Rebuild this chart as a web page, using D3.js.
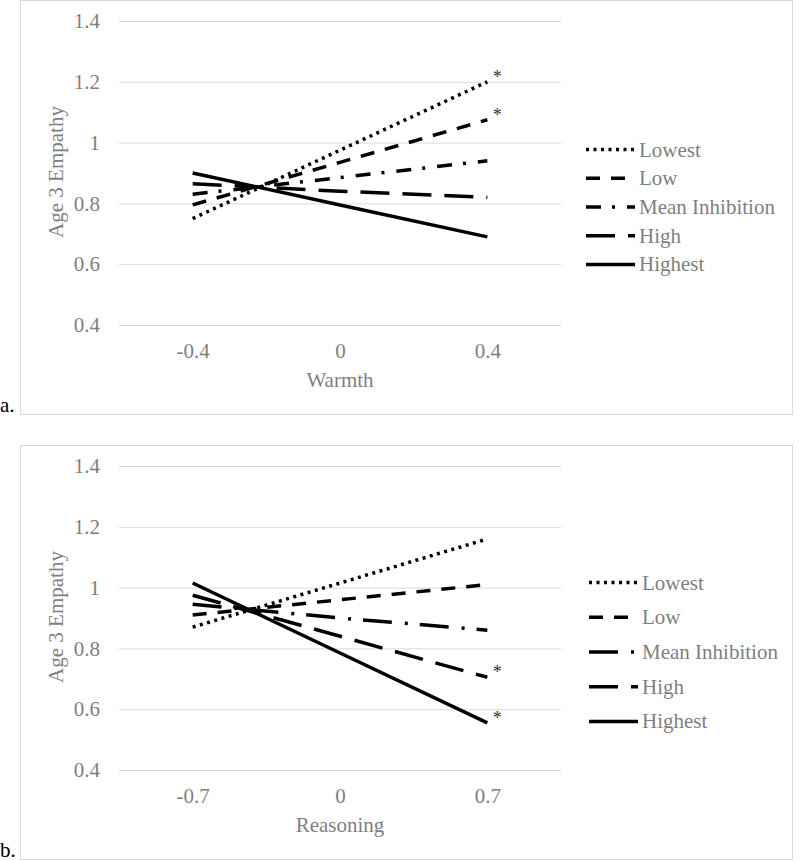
<!DOCTYPE html>
<html>
<head>
<meta charset="utf-8">
<script src="https://cdn.jsdelivr.net/npm/d3@7"></script>
<style>
  html, body { margin: 0; padding: 0; background: #fff; }
  svg { display: block; }
  svg text { font-family: "Liberation Serif", "Tinos", "Times New Roman", "Nimbus Roman", "DejaVu Serif", serif !important; }
</style>
</head>
<body>
<svg id="chart" width="800" height="861"></svg>
<script>
// ---------- data ----------
const seriesNames = ["Lowest", "Low", "Mean Inhibition", "High", "Highest"];
const yTicks = [0.4, 0.6, 0.8, 1.0, 1.2, 1.4];

const warmthCats = ["-0.4", "0", "0.4"];
const warmthLowest  = [0.75, 0.975, 1.20];
const warmthLow     = [0.795, 0.935, 1.075];
const warmthMean    = [0.83, 0.885, 0.94];
const warmthHigh    = [0.865, 0.84, 0.82];
const warmthHighest = [0.90, 0.795, 0.69];
const warmthSig     = [true, true, false, false, false];

const reasoningCats = ["-0.7", "0", "0.7"];
const reasoningLowest  = [0.87, 1.015, 1.16];
const reasoningLow     = [0.91, 0.96, 1.01];
const reasoningMean    = [0.945, 0.90, 0.86];
const reasoningHigh    = [0.975, 0.84, 0.705];
const reasoningHighest = [1.015, 0.785, 0.555];
const reasoningSig     = [false, false, false, true, true];

// ---------- styles ----------
const dashTop = ["3,4.5", "14,11", "15,11,3,12", "29,13", null];
const dashBottom = ["3,4.5", "14,11", "29,13,3,12", "29,13", null];

const panels = [
  { top: 0, cats: warmthCats, title: "Warmth", tag: "a.",
    values: [warmthLowest, warmthLow, warmthMean, warmthHigh, warmthHighest],
    sig: warmthSig, dash: dashTop, legendStep: 28.7, legendX: 586 },
  { top: 445, cats: reasoningCats, title: "Reasoning", tag: "b.",
    values: [reasoningLowest, reasoningLow, reasoningMean, reasoningHigh, reasoningHighest],
    sig: reasoningSig, dash: dashBottom, legendStep: 34.7, legendX: 589 }
];

const FONT = "'Liberation Serif', 'Tinos', 'Times New Roman', 'Nimbus Roman', 'DejaVu Serif', serif";
const svg = d3.select("#chart");
const grey = "#7f7f7f";
const plotL = 119, plotR = 561;

panels.forEach(p => {
  const g = svg.append("g").attr("transform", `translate(0,${p.top})`)
    .attr("font-family", FONT);

  g.append("rect")
    .attr("x", 20.5).attr("y", 0.5)
    .attr("width", 772).attr("height", 414)
    .attr("fill", "none").attr("stroke", "#d9d9d9").attr("stroke-width", 1);

  const x = d3.scalePoint().domain(p.cats).range([plotL, plotR]).padding(0.5);
  const y = d3.scaleLinear().domain([0.4, 1.4]).range([325, 21]);

  const yAxis = d3.axisLeft(y)
    .tickValues(yTicks)
    .tickSize(-(plotR - plotL))
    .tickPadding(19)
    .tickFormat(d => d3.format("")(+d.toFixed(1)));
  const ya = g.append("g").attr("transform", `translate(${plotL},0)`).call(yAxis)
    .attr("font-family", FONT).attr("font-size", 21);
  ya.select(".domain").remove();
  ya.selectAll(".tick line").attr("stroke", "#d9d9d9").attr("stroke-width", 1);
  ya.selectAll(".tick text").attr("fill", grey);

  const xa = g.append("g").attr("transform", "translate(0,325)")
    .call(d3.axisBottom(x).tickSize(0).tickPadding(18))
    .attr("font-family", FONT).attr("font-size", 21);
  xa.select(".domain").remove();
  xa.selectAll(".tick text").attr("fill", grey);

  g.append("text")
    .attr("x", 340).attr("y", 387)
    .attr("text-anchor", "middle")
    .attr("fill", grey).attr("font-size", 21)
    .text(p.title);
  g.append("text")
    .attr("transform", "translate(56,172) rotate(-90)")
    .attr("text-anchor", "middle").attr("dominant-baseline", "central")
    .attr("fill", grey).attr("font-size", 21)
    .text("Age 3 Empathy");

  g.append("text")
    .attr("x", 0).attr("y", 412)
    .attr("fill", "#000").attr("font-size", 21)
    .text(p.tag);

  const line = d3.line().x((d, i) => x(p.cats[i])).y(d => y(d));
  p.values.forEach((vals, si) => {
    g.append("path")
      .datum(vals)
      .attr("d", line)
      .attr("fill", "none")
      .attr("stroke", "#000")
      .attr("stroke-width", 3.5)
      .attr("stroke-dasharray", p.dash[si])
      .attr("stroke-linecap", "butt");
    if (p.sig[si]) {
      const last = vals.length - 1;
      g.append("text")
        .attr("x", x(p.cats[last]) + 10)
        .attr("y", y(vals[last]) + 1)
        .attr("text-anchor", "middle")
        .attr("fill", "#333").attr("font-size", 18)
        .text("*");
    }
  });

  const lg = g.append("g");
  seriesNames.forEach((name, si) => {
    const ly = 207 + (si - 2) * p.legendStep;
    lg.append("line")
      .attr("x1", p.legendX).attr("x2", p.legendX + 49)
      .attr("y1", ly).attr("y2", ly)
      .attr("stroke", "#000").attr("stroke-width", 3.5)
      .attr("stroke-dasharray", p.dash[si]);
    lg.append("text")
      .attr("x", p.legendX + 53).attr("y", ly)
      .attr("dominant-baseline", "central")
      .attr("fill", grey).attr("font-size", 21)
      .text(name);
  });
});
</script>
</body>
</html>
